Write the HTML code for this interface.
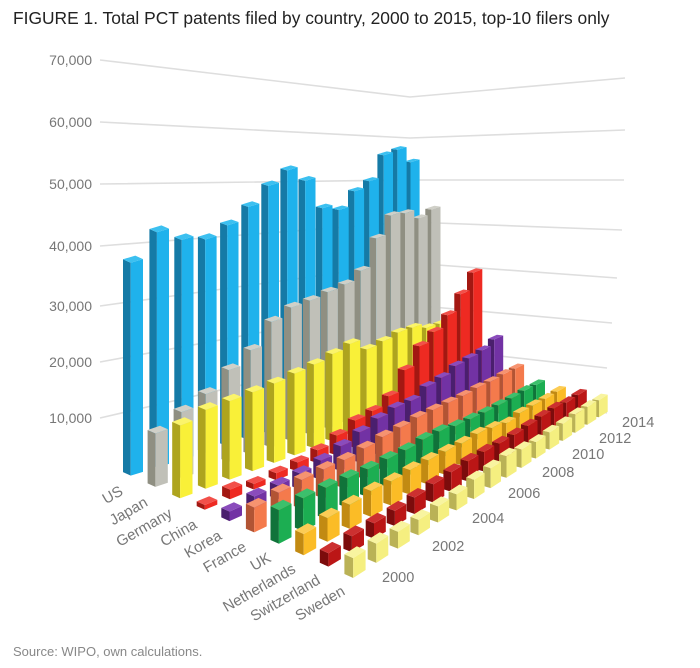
<!DOCTYPE html>
<html><head><meta charset="utf-8">
<style>
html,body{margin:0;padding:0;background:#fff;}
svg{display:block;font-family:"Liberation Sans",sans-serif;}
</style></head>
<body>
<svg id="s" width="700" height="668" viewBox="0 0 700 668" xmlns="http://www.w3.org/2000/svg">
<text x="13" y="24" font-size="17.4" fill="#222">FIGURE 1. Total PCT patents filed by country, 2000 to 2015, top-10 filers only</text>
<text x="13" y="656" font-size="13" fill="#888">Source: WIPO, own calculations.</text>
<g id="grid" stroke="#dedede" stroke-width="1.6" fill="none"></g>
<g id="ylab" font-size="14" fill="#777" text-anchor="end"></g>
<g id="bars" stroke="none"></g>
<g id="clab" font-size="15" fill="#777" text-anchor="end"></g>
<g id="tlab" font-size="14.5" fill="#777">
<text x="382" y="582">2000</text><text x="432" y="551">2002</text><text x="472" y="523">2004</text>
<text x="508" y="498">2006</text><text x="542" y="477">2008</text><text x="572" y="459">2010</text>
<text x="599" y="443">2012</text><text x="622" y="427">2014</text>
</g>
</svg>
<script>
var NS="http://www.w3.org/2000/svg";
function el(n,a,p,t){var e=document.createElementNS(NS,n);for(var k in a)e.setAttribute(k,a[k]);if(t)e.textContent=t;document.getElementById(p).appendChild(e);return e;}
var L=[[60,97,78],[122,138,130],[184,180,180],[246,222,230],[306,263,278],[362,305,323],[418,346,368]];
var RX=[625,625,624,622,617,612,607];
var labs=["70,000","60,000","50,000","40,000","30,000","20,000","10,000"];
for(var i=0;i<L.length;i++){
 el("polyline",{points:"100,"+L[i][0]+" 410,"+L[i][1]+" "+RX[i]+","+L[i][2]},"grid");
 el("text",{x:92,y:L[i][0]+5},"ylab",labs[i]);
}
el("line",{x1:595,y1:410,x2:607,y2:413},"grid");
var A={x:133,y:472},B={x:355,y:572},C={x:600,y:414},D={x:412,y:388};
var sA=5.6,sB=6.4,sC=4.5,sD=4.1;
function p(x){return x*1.45/(1+0.45*x);}
function base(c,t){var u=c/9,v=p(t/15);
 return {x:(1-u)*(1-v)*A.x+u*(1-v)*B.x+u*v*C.x+(1-u)*v*D.x,
         y:(1-u)*(1-v)*A.y+u*(1-v)*B.y+u*v*C.y+(1-u)*v*D.y,
         s:(1-u)*(1-v)*sA+u*(1-v)*sB+u*v*sC+(1-u)*v*sD};}
function unit(a,b){var dx=b.x-a.x,dy=b.y-a.y,l=Math.sqrt(dx*dx+dy*dy);return {x:dx/l,y:dy/l};}
var data=[
[38,43.1,41.3,41,43.4,46.8,50.9,54,51.7,45.6,45,49,51.2,57.2,58.5,55.5],
[9.4,11.9,14,17.4,20.2,24.9,27,27.7,28.8,29.8,32.2,38.9,43.7,43.9,42.4,44.2],
[12.6,14,14.3,14.7,15.2,16,16.7,17.8,18.9,16.8,17.6,18.6,18.8,17.9,18,18.1],
[0.8,1.7,1,1.3,1.7,2.5,3.9,5.5,6.1,7.9,12.3,16.4,18.6,21.5,25.5,29.8],
[1.6,2.3,2.5,2.9,3.6,4.7,5.9,7.1,7.9,8,9.7,10.4,11.8,12.4,13.1,14.6],
[4.1,4.7,5.1,5.2,5.2,5.7,6.3,6.6,7.1,7.2,7.3,7.4,7.8,7.9,8.3,8.4],
[5.5,5.5,5.4,5.2,5,5.1,5.1,5.5,5.5,5,4.9,4.8,4.9,5,5.3,5.3],
[3.4,3.9,4.1,4.5,4.3,4.5,4.5,4.4,4.3,4.5,4.1,3.5,4.1,4.2,4.2,4.4],
[2.1,2.6,2.6,2.6,2.9,3.3,3.6,3.8,3.8,3.7,3.7,3.9,4.2,4.4,4.1,4.3],
[3.1,3.1,2.8,2.6,2.8,2.9,3.5,3.7,4.1,3.6,3.3,3.5,3.6,3.9,3.9,3.8]];
var cols=[["#1fb2ec","#157aa6","#3cc0f0"],["#c0c0b8","#8f8f82","#d0d0c8"],["#f9f038","#aea41e","#fbf46a"],
["#ee2a22","#a31812","#f2504a"],["#7232a4","#4a1f6e","#8a4cbc"],["#f47a4c","#b25434","#f69370"],
["#1cae52","#10733a","#3cc06c"],["#fbbc26","#c28a12","#fccc55"],["#bb1616","#7c0c0c","#cc3030"],["#f5ef80","#bab256","#f8f4a0"]];
var names=["US","Japan","Germany","China","Korea","France","UK","Netherlands","Switzerland","Sweden"];
var bars=[];
for(var c=0;c<10;c++)for(var t=0;t<16;t++){
 var P=base(c,t);
 var ey=unit(base(c,t-0.5),base(c,t+0.5)),ec=unit(base(c-0.5,t),base(c+0.5,t));
 bars.push({c:c,t:t,P:P,ey:ey,ec:ec,h:data[c][t]*P.s});
}
bars.sort(function(a,b){return a.P.y-b.P.y;});
function pt(b,a,bb,hh){var hy=1.15*b.P.s,hc=0.75*b.P.s;
 return (b.P.x+a*b.ey.x*hy+bb*b.ec.x*hc).toFixed(1)+","+(b.P.y+a*b.ey.y*hy+bb*b.ec.y*hc-hh).toFixed(1);}
bars.forEach(function(b){
 var col=cols[b.c],h=b.h;
 el("polygon",{points:[pt(b,-1,-1,0),pt(b,-1,1,0),pt(b,-1,1,h),pt(b,-1,-1,h)].join(" "),fill:col[1]},"bars");
 el("polygon",{points:[pt(b,-1,1,0),pt(b,1,1,0),pt(b,1,1,h),pt(b,-1,1,h)].join(" "),fill:col[0]},"bars");
 el("polygon",{points:[pt(b,-1,-1,h),pt(b,1,-1,h),pt(b,1,1,h),pt(b,-1,1,h)].join(" "),fill:col[2]},"bars");
});
for(var c=0;c<10;c++){var P=base(c,0);
 var x=P.x-9,y=P.y+22;
 el("text",{x:x.toFixed(1),y:y.toFixed(1),transform:"rotate(-30 "+x.toFixed(1)+" "+y.toFixed(1)+")"},"clab",names[c]);}
</script>
</body></html>
